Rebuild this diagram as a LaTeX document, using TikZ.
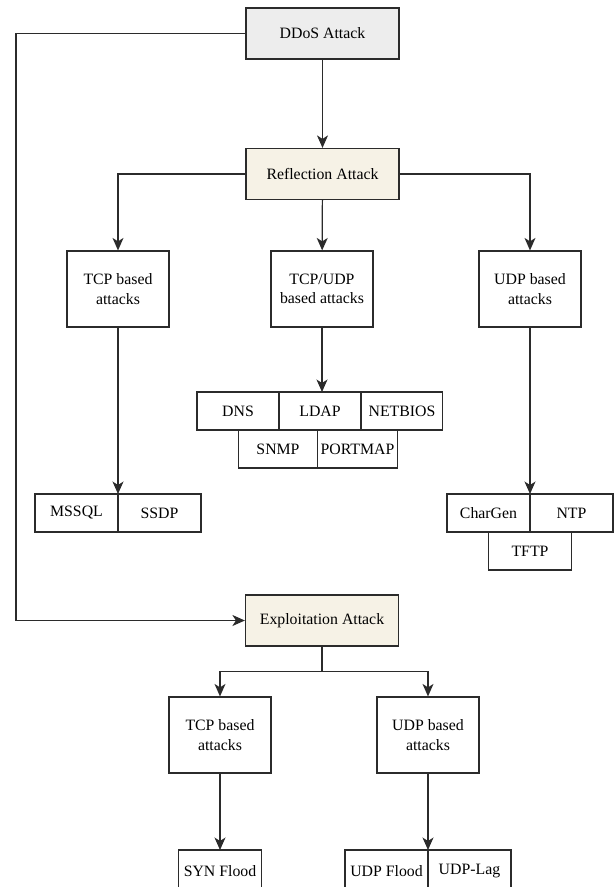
\documentclass[tikz,border=0pt]{standalone}
\usepackage{fontspec}
\setmainfont{Liberation Serif}
\usetikzlibrary{arrows.meta, positioning, calc}
\definecolor{edge}{HTML}{2B2B2B}
\definecolor{rootFill}{HTML}{EDEDED}
\definecolor{attackFill}{HTML}{F6F2E6}

\begin{document}
\begin{tikzpicture}[
  x=0.02cm, y=-0.02cm,                          % 1 unit = 1 px of the 614 x 887 layout
  font=\fontsize{9}{11}\selectfont,
  mainbox/.style={rectangle, draw=edge, line width=0.7pt, fill=rootFill,
                  align=center, inner sep=0pt,
                  minimum width=3.06cm, minimum height=1.02cm},
  kindbox/.style={rectangle, draw=edge, line width=0.7pt, fill=white,
                  align=center, inner sep=0pt,
                  minimum width=2.04cm, minimum height=1.52cm},
  cell/.style={rectangle, draw=edge, line width=0.6pt, fill=white,
               inner sep=0pt, outer sep=0pt,
               minimum width=1.64cm, minimum height=0.76cm},
  link/.style={-{Stealth[length=2.5mm, width=2.2mm, inset=0.7mm]}, draw=edge, line width=0.7pt},
  plain/.style={draw=edge, line width=0.7pt}
]
  \useasboundingbox (0,0) rectangle (614,887);

  % --- top: DDoS -> reflection ---
  \node[mainbox] (ddos) at (322.5, 33.5) {DDoS Attack};
  \node[mainbox, fill=attackFill] (refl) at (322.5, 174) {Reflection Attack};

  % --- reflection families ---
  \node[kindbox] (rtcp)    at (118, 289)   {TCP based\\ attacks};
  \node[kindbox] (rtcpudp) at (322, 289)   {TCP/UDP\\ based attacks};
  \node[kindbox] (rudp)    at (530, 289)   {UDP based\\ attacks};

  % TCP/UDP protocols: 3 over 2
  \node[cell] (dns) at (238, 411) {DNS};
  \node[cell, right=0pt of dns]  (ldap)    {LDAP};
  \node[cell, right=0pt of ldap] (netbios) {NETBIOS};
  \node[cell, minimum width=1.59cm] (snmp) at (278, 449) {SNMP};
  \node[cell, minimum width=1.59cm, right=0pt of snmp] (portmap) {PORTMAP};

  % TCP protocols
  \node[cell, minimum width=1.66cm] (mssql) at (76.5, 513) {MSSQL};
  \node[cell, minimum width=1.66cm, right=0pt of mssql] (ssdp) {SSDP};

  % UDP protocols: 2 over 1
  \node[cell, minimum width=1.66cm] (chargen) at (488.5, 513) {CharGen};
  \node[cell, minimum width=1.66cm, right=0pt of chargen] (ntp) {NTP};
  \node[cell, minimum width=1.66cm] (tftp) at (530, 551) {TFTP};

  % --- exploitation branch ---
  \node[mainbox, fill=attackFill] (expl) at (322, 620.5) {Exploitation Attack};
  \node[kindbox] (etcp) at (220, 735) {TCP based\\ attacks};
  \node[kindbox] (eudp) at (428, 735) {UDP based\\ attacks};

  % bottom row runs off the lower edge
  \node[cell, minimum width=1.65cm, minimum height=0.84cm] (syn) at (220, 871) {SYN Flood};
  \node[cell, minimum width=1.66cm, minimum height=0.84cm] (udpflood) at (386.5, 871) {UDP Flood};
  \node[cell, minimum width=1.66cm, minimum height=0.84cm, right=0pt of udpflood] (udplag) {UDP-Lag};

  % --- edges ---
  \coordinate (side) at (16, 33.5);
  \draw[link] (ddos.west) -- (side) |- (expl.west);
  \draw[link] (ddos) -- (refl);

  \draw[link] (refl.west) -| (rtcp.north);
  \draw[link] (refl) -- (rtcpudp);
  \draw[link] (refl.east) -| (rudp.north);

  \draw[link] (rtcpudp.south) -- (rtcpudp.south |- ldap.north);
  \draw[link] (rtcp.south) -- (rtcp.south |- mssql.north);
  \draw[link] (rudp.south) -- (rudp.south |- chargen.north);

  \coordinate (fork) at ($(expl.south)+(0,25)$);
  \draw[plain] (expl.south) -- (fork);
  \draw[link] (fork) -| (etcp.north);
  \draw[link] (fork) -| (eudp.north);

  \draw[link] (etcp) -- (syn);
  \draw[link] (eudp.south) -- (eudp.south |- udpflood.north);

\end{tikzpicture}
\end{document}
